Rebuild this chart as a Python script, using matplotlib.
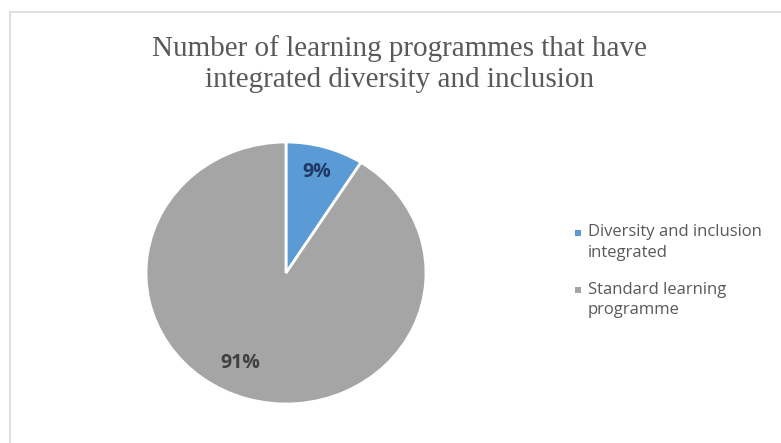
import numpy as np
import matplotlib
matplotlib.use("Agg")
import matplotlib.pyplot as plt
from matplotlib.patches import Rectangle

# Data
categories = ["Diversity and inclusion\nintegrated", "Standard learning\nprogramme"]
shares = [9, 91]
colors = ["#5B9BD5", "#A5A5A5"]
label_colors = ["#203864", "#404040"]

W, H = 781, 443
fig = plt.figure(figsize=(W / 100, H / 100), dpi=100)
fig.patch.set_facecolor("white")

# Chart area border
fig.add_artist(Rectangle((9.5 / W, -0.01), (W - 9.5 + 5) / W, (H - 11.5) / H + 0.01,
                         transform=fig.transFigure, fill=False,
                         edgecolor="#D9D9D9", linewidth=1.2))

# Title
fig.text(400 / W, 1 - 64 / H,
         "Number of learning programmes that have\nintegrated diversity and inclusion",
         ha="center", va="center", fontsize=21, family="Liberation Serif",
         color="#595959", linespacing=1.22)

# Pie
cx, cy, rx, ry = 286, 273, 140, 131
ax = fig.add_axes([(cx - rx) / W, (H - cy - ry) / H, 2 * rx / W, 2 * ry / H])
wedges, texts, autotexts = ax.pie(
    shares, colors=colors, startangle=90, counterclock=False,
    autopct="%d%%", pctdistance=0.8,
    wedgeprops=dict(edgecolor="white", linewidth=2),
    textprops=dict(fontsize=14, family="Open Sans", fontweight="bold"))
ax.set_aspect("auto")
ax.set_xlim(-1, 1)
ax.set_ylim(-1, 1)
for t, c in zip(autotexts, label_colors):
    t.set_color(c)
# best-fit placement of the large slice label
ang = np.deg2rad(-115.5)
autotexts[1].set_position((0.76 * np.cos(ang), 0.76 * np.sin(ang)))

# Legend
leg_x, text_x = 578, 588
first_line_y = [233, 290]
for cat, col, y in zip(categories, colors, first_line_y):
    s = 6
    fig.add_artist(Rectangle(((leg_x - s / 2) / W, 1 - (y + s / 2) / H), s / W, s / H,
                             transform=fig.transFigure, facecolor=col, edgecolor="none"))
    fig.text(text_x / W, 1 - (y - 8.5) / H, cat, ha="left", va="top",
             fontsize=12, family="Open Sans", color="#595959", linespacing=1.4)

fig.savefig("out.png", dpi=100)
